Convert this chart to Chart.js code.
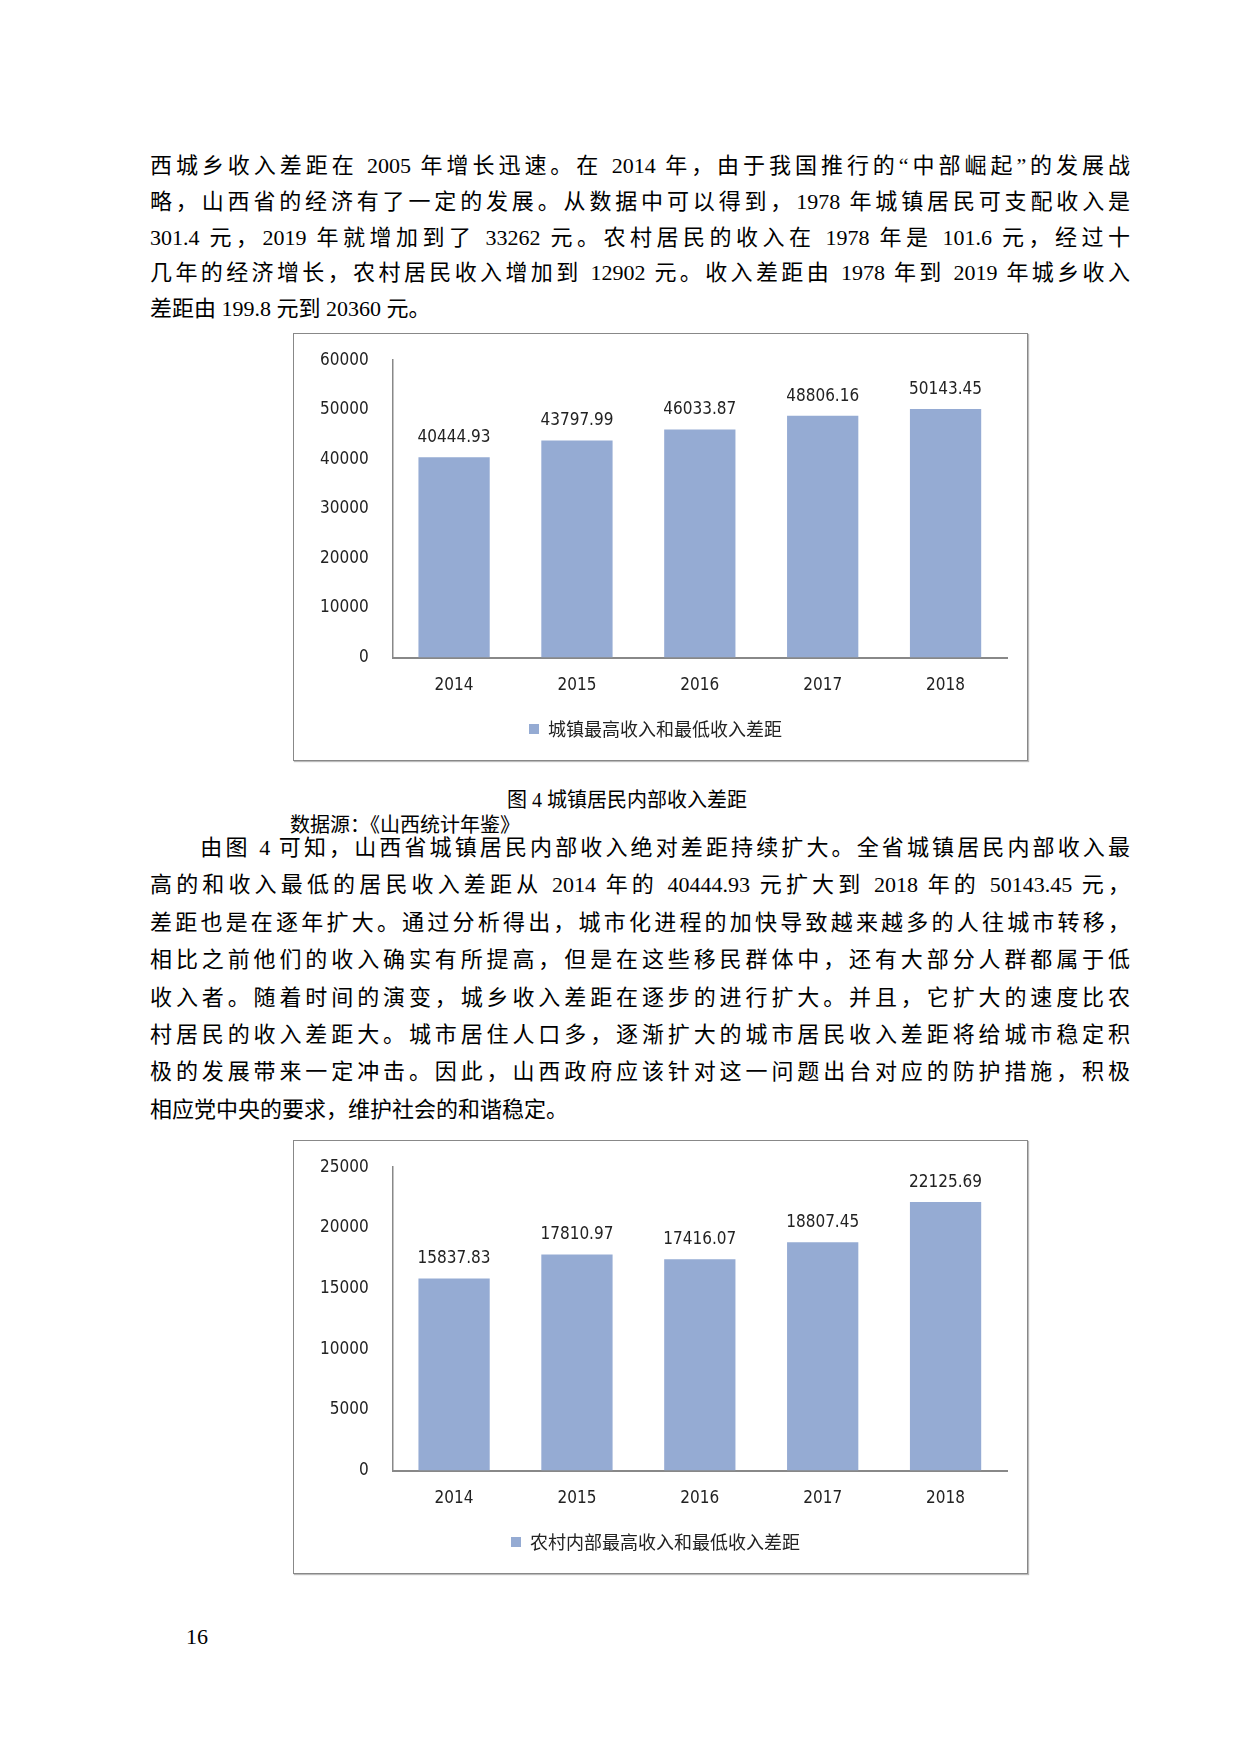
<!DOCTYPE html>
<html><head><meta charset="utf-8">
<script src="https://cdn.jsdelivr.net/npm/chart.js@4/dist/chart.umd.min.js"></script>
<style>
body{margin:0;width:1240px;height:1754px;background:#fff;position:relative;font-family:"Liberation Serif","Noto Sans CJK SC",serif;color:#000}
.ln{position:absolute;left:150px;width:980px;font-size:22px;line-height:36px;white-space:nowrap;text-align:justify;text-align-last:justify}
.last{text-align-last:left}
.box{position:absolute;left:293px;width:733px;border:1.5px solid #888;box-shadow:1px 1px 1px #bbb}
.cap{position:absolute;font-size:20px;white-space:nowrap}
</style></head><body>
<div class="box" style="top:333px;height:426px"><canvas id="c1"></canvas></div>
<div class="cap" style="left:507px;top:784px">图 4 城镇居民内部收入差距</div>
<div class="cap" style="left:290px;top:809px">数据源：《山西统计年鉴》</div>
<div class="box" style="top:1140px;height:432px"><canvas id="c2"></canvas></div>
<div class="cap" style="left:186px;top:1624px;font-size:22px">16</div>
<script>
const years = ["2014", "2015", "2016", "2017", "2018"];
const urbanGap = [40444.93, 43797.99, 46033.87, 48806.16, 50143.45];
const ruralGap = [15837.83, 17810.97, 17416.07, 18807.45, 22125.69];
const urbanLabel = "城镇最高收入和最低收入差距";
const ruralLabel = "农村内部最高收入和最低收入差距";

const para1 = [
  "西城乡收入差距在 2005 年增长迅速。在 2014 年，由于我国推行的“中部崛起”的发展战",
  "略，山西省的经济有了一定的发展。从数据中可以得到，1978 年城镇居民可支配收入是",
  "301.4 元，2019 年就增加到了 33262 元。农村居民的收入在 1978 年是 101.6 元，经过十",
  "几年的经济增长，农村居民收入增加到 12902 元。收入差距由 1978 年到 2019 年城乡收入",
  "差距由 199.8 元到 20360 元。"
];
const para2 = [
  "　　由图 4 可知，山西省城镇居民内部收入绝对差距持续扩大。全省城镇居民内部收入最",
  "高的和收入最低的居民收入差距从 2014 年的 40444.93 元扩大到 2018 年的 50143.45 元，",
  "差距也是在逐年扩大。通过分析得出，城市化进程的加快导致越来越多的人往城市转移，",
  "相比之前他们的收入确实有所提高，但是在这些移民群体中，还有大部分人群都属于低",
  "收入者。随着时间的演变，城乡收入差距在逐步的进行扩大。并且，它扩大的速度比农",
  "村居民的收入差距大。城市居住人口多，逐渐扩大的城市居民收入差距将给城市稳定积",
  "极的发展带来一定冲击。因此，山西政府应该针对这一问题出台对应的防护措施，积极",
  "相应党中央的要求，维护社会的和谐稳定。"
];
function put(lines, top, step){
  lines.forEach((t,i)=>{
    const d=document.createElement('div');
    d.className='ln'+(i==lines.length-1?' last':'');
    d.style.top=(top+i*step)+'px';
    d.textContent=t;
    document.body.appendChild(d);
  });
}
put(para1,148,35.8); put(para2,830,37.4);

const valueLabels = {
  id:'valueLabels',
  afterDatasetsDraw(chart){
    const ctx=chart.ctx;
    ctx.save();
    ctx.font='17px "DejaVu Sans Condensed","Liberation Sans",sans-serif';
    ctx.fillStyle='#222';ctx.textAlign='center';ctx.textBaseline='bottom';
    chart.getDatasetMeta(0).data.forEach((b,i)=>{
      ctx.fillText(chart.data.datasets[0].data[i].toFixed(2), b.x, b.y-11);
    });
    ctx.restore();
  }
};

function draw(id, data, label, max, step){
  new Chart(document.getElementById(id), {
    type:'bar',
    data:{labels:years, datasets:[{label:label, data:data, backgroundColor:'#95abd3', barPercentage:0.58, categoryPercentage:1}]},
    options:{
      responsive:true, maintainAspectRatio:false, animation:false,
      layout:{padding:{top:22,right:20,left:10,bottom:12}},
      scales:{
        x:{grid:{display:false}, border:{color:'#888',width:2}, ticks:{color:'#222',font:{size:17,family:'"DejaVu Sans Condensed",sans-serif'},padding:10}},
        y:{min:0,max:max, grid:{display:false}, border:{color:'#888',width:1.5},
           ticks:{stepSize:step,color:'#222',padding:16,callback:v=>String(v),font:{size:17,family:'"DejaVu Sans Condensed",sans-serif'}}}
      },
      plugins:{
        legend:{position:'bottom', labels:{boxWidth:10,boxHeight:10,color:'#222',padding:14,font:{size:18,family:'"Noto Sans CJK SC",sans-serif'}}},
        tooltip:{enabled:false}
      }
    },
    plugins:[valueLabels]
  });
}
draw('c1', urbanGap, urbanLabel, 60000, 10000);
draw('c2', ruralGap, ruralLabel, 25000, 5000);
</script>
</body></html>
